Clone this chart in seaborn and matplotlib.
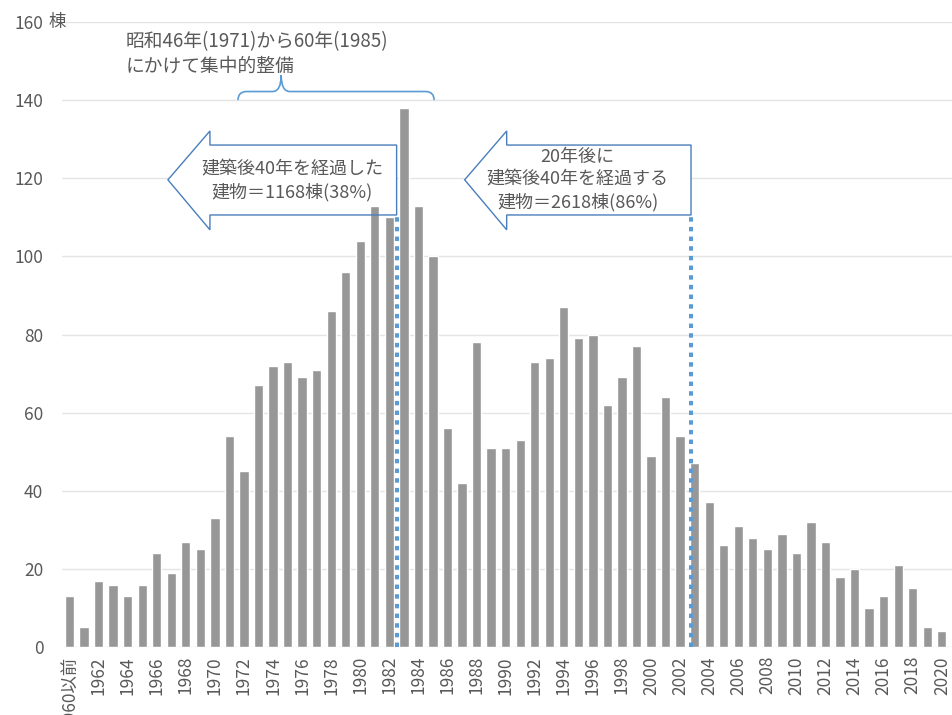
import numpy as np
import pandas as pd
import matplotlib
matplotlib.use('Agg')
import matplotlib.pyplot as plt
import seaborn as sns
from matplotlib.path import Path
from matplotlib.patches import PathPatch, Polygon

# ---- data ----
categories = ['1960以前'] + [str(y) for y in range(1961, 2022)]
counts = [13, 5, 17, 16, 13, 16, 24, 19, 27, 25,
          33, 54, 45, 67, 72, 73, 69, 71, 86, 96,
          104, 113, 110, 138, 113, 100, 56, 42, 78, 51,
          51, 53, 73, 74, 87, 79, 80, 62, 69, 77,
          49, 64, 54, 47, 37, 26, 31, 28, 25, 29,
          24, 32, 27, 18, 20, 10, 13, 21, 15, 5,
          4, 10]
yticks = [0, 20, 40, 60, 80, 100, 120, 140, 160]
ytick_labels = ['0', '20', '40', '60', '80', '100', '120', '140', '160']
unit_label = '棟'

top_note = '昭和46年(1971)から60年(1985)\nにかけて集中的整備'
left_note = '建築後40年を経過した\n建物＝1168棟(38%)'
right_note = '20年後に\n建築後40年を経過する\n建物＝2618棟(86%)'

# ---- style ----
sns.set_style('white')
plt.rcParams['font.family'] = ['Noto Sans CJK JP', 'DejaVu Sans']

BAR = '#979797'
GRID = '#E4E4E4'
TXT = '#595959'
BLUE = '#5B9BD5'
ARROW_EDGE = '#4A7EBB'

fig = plt.figure(figsize=(9.52, 7.15), dpi=100)
ax = fig.add_axes([62 / 952, 68 / 715, 890 / 952, 625 / 715])

df = pd.DataFrame({'year': categories, 'count': counts})
sns.barplot(data=df, x='year', y='count', order=categories, color=BAR,
            saturation=1, width=0.64, ax=ax, zorder=2)

ax.set_xlim(-0.515, 60.7)
ax.set_ylim(0, 160)
ax.set_xlabel('')
ax.set_ylabel('')
for s in ax.spines.values():
    s.set_visible(False)

ax.set_yticks(yticks)
ax.set_yticklabels(ytick_labels)
ax.yaxis.grid(True, color=GRID, lw=1.0)
ax.xaxis.grid(False)
ax.set_axisbelow(True)

xt = list(range(0, len(categories), 2))
ax.set_xticks(xt)
ax.set_xticklabels([categories[i] for i in xt], rotation=90)
ax.tick_params(axis='x', length=0, pad=6.5, labelsize=12.5, labelcolor=TXT)
ax.tick_params(axis='y', length=0, pad=13.5, labelsize=12.5, labelcolor=TXT)

ax.annotate(unit_label, xy=(0, 160), xycoords=('axes fraction', 'data'),
            xytext=(-9.6, 0), textcoords='offset points', ha='left',
            va='center', fontsize=12.5, color=TXT, annotation_clip=False)

# ---- arrows ----
def block_arrow(tip_x, head_x, right_x):
    tip_y, head_top, head_bot, body_top, body_bot = 119.6, 132.1, 106.8, 128.5, 110.6
    return [(tip_x, tip_y), (head_x, head_top), (head_x, body_top),
            (right_x, body_top), (right_x, body_bot), (head_x, body_bot),
            (head_x, head_bot)]

left_pts = block_arrow(6.77, 9.66, 22.5)
right_pts = block_arrow(27.18, 30.07, 42.75)
for pts in (left_pts, right_pts):
    ax.add_patch(Polygon(pts, closed=True, facecolor='white', edgecolor='none', zorder=1.5))
    ax.add_patch(Polygon(pts, closed=True, facecolor='none', edgecolor=ARROW_EDGE,
                         lw=1.0, zorder=3, joinstyle='miter'))

ax.text(15.33, 119.3, left_note, ha='center', va='center', fontsize=13,
        color=TXT, linespacing=1.3, zorder=5)
ax.text(34.95, 119.6, right_note, ha='center', va='center', fontsize=13,
        color=TXT, linespacing=1.3, zorder=5)

# ---- dotted boundary lines ----
for xb in (22.5, 42.75):
    ax.plot([xb, xb], [0, 110.6], color=BLUE, lw=2.9, linestyle=(0, (1.1, 1.3)),
            dash_capstyle='butt', zorder=4)

# ---- brace ----
x0, x1, xt_, r = 11.59, 25.08, 14.56, 0.6
yb, ym, ytop = 140.0, 142.2, 146.4
verts = [(x0, yb), (x0, ym), (x0 + r, ym),
         (xt_ - r, ym),
         (xt_, ym), (xt_, ytop),
         (xt_, ym), (xt_ + r, ym),
         (x1 - r, ym),
         (x1, ym), (x1, yb)]
codes = [Path.MOVETO, Path.CURVE3, Path.CURVE3,
         Path.LINETO,
         Path.CURVE3, Path.CURVE3,
         Path.CURVE3, Path.CURVE3,
         Path.LINETO,
         Path.CURVE3, Path.CURVE3]
ax.add_patch(PathPatch(Path(verts, codes), facecolor='none', edgecolor=BLUE,
                       lw=1.2, zorder=3, clip_on=False))

ax.text(3.85, 151.8, top_note, ha='left', va='center', fontsize=13.5,
        color=TXT, linespacing=1.2, zorder=5)

fig.savefig('out.png', dpi=100)
